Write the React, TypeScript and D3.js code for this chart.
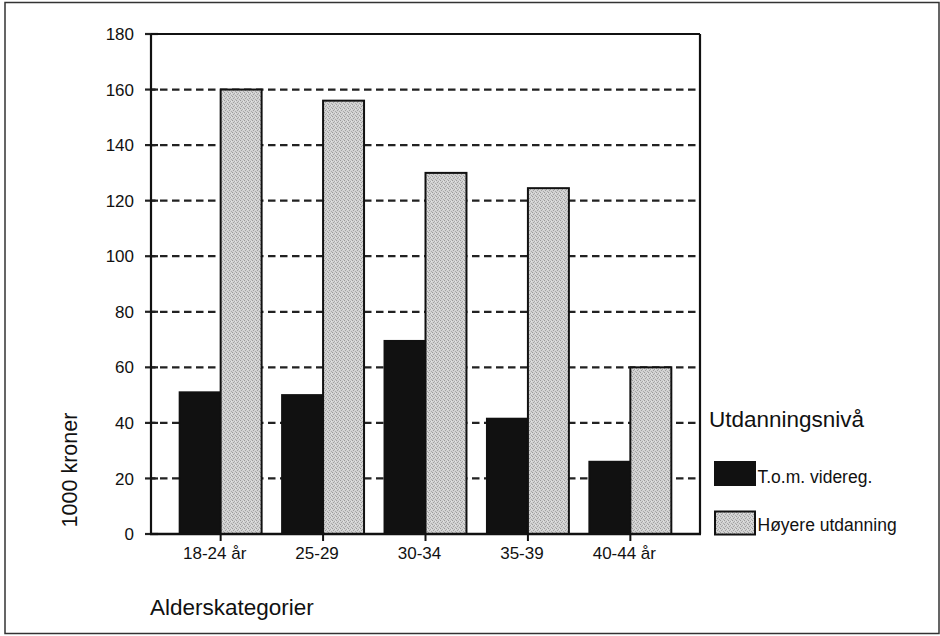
import React from "react";
import * as d3 from "d3";

const categories = ["18-24 år", "25-29", "30-34", "35-39", "40-44 år"];
const seriesNames = ["T.o.m. videreg.", "Høyere utdanning"];
const lowEdu = [51, 50, 69.5, 41.5, 26];
const highEdu = [160, 156, 130, 124.5, 60];
const yTicks = [0, 20, 40, 60, 80, 100, 120, 140, 160, 180];
const legendTitle = "Utdanningsnivå";
const yTitle = "1000 kroner";
const xTitle = "Alderskategorier";

const W = 940;
const H = 636;
const FONT = "'Liberation Sans', Arial, Helvetica, sans-serif";

export default function App() {
  const left = 151, right = 700, top = 34, bottom = 534;
  const y = d3.scaleLinear().domain([0, 180]).range([bottom, top]);
  const x = d3.scaleBand<string>().domain(categories).range([left, right]).paddingInner(0.2).paddingOuter(0.28);
  const xs = d3.scaleBand<string>().domain(seriesNames).range([0, x.bandwidth()]).padding(0);
  const values = [lowEdu, highEdu];
  const fills = ["#111111", "url(#stipple)"];

  return (
    <svg width={W} height={H} style={{ position: "absolute", left: 0, top: 0, background: "#fff" }} fontFamily={FONT}>
      <defs>
        <pattern id="stipple" width="4" height="4" patternUnits="userSpaceOnUse">
          <rect width="4" height="4" fill="#d2d2d2" />
          <rect x="0" y="0" width="1" height="1" fill="#9a9a9a" />
          <rect x="2" y="1" width="1" height="1" fill="#a8a8a8" />
          <rect x="1" y="2" width="1" height="1" fill="#a0a0a0" />
          <rect x="3" y="3" width="1" height="1" fill="#aaaaaa" />
          <rect x="3" y="1" width="1" height="1" fill="#e4e4e4" />
        </pattern>
      </defs>
      <rect x={5} y={2.5} width={934} height={631} fill="#fff" stroke="#333" strokeWidth={1.5} />

      {/* gridlines */}
      {yTicks.filter(t => t > 0 && t < 180).map(t => (
        <line key={"g" + t} x1={left} x2={right} y1={y(t)} y2={y(t)} stroke="#222" strokeWidth={2.2} strokeDasharray="7.5 4.5" strokeDashoffset={-9} />
      ))}
      {/* left ticks */}
      {yTicks.map(t => (
        <line key={"t" + t} x1={145} x2={158} y1={y(t)} y2={y(t)} stroke="#222" strokeWidth={2.2} />
      ))}
      {/* y tick labels */}
      {yTicks.map(t => (
        <text key={"l" + t} x={134} y={y(t)} dy="0.36em" textAnchor="end" fontSize={17} fill="#111">{t}</text>
      ))}

      {/* bars */}
      {categories.map((c, i) => (
        <g key={c}>
          {seriesNames.map((s, j) => (
            <rect key={s} x={(x(c) as number) + (xs(s) as number)} y={y(values[j][i])} width={xs.bandwidth()} height={y(0) - y(values[j][i])}
              fill={fills[j]} stroke="#111" strokeWidth={2} />
          ))}
        </g>
      ))}

      {/* plot frame */}
      <line x1={left} x2={left} y1={top} y2={bottom} stroke="#111" strokeWidth={2.2} />
      <line x1={left} x2={right} y1={top} y2={top} stroke="#111" strokeWidth={2.2} />
      <line x1={right} x2={right} y1={top} y2={bottom} stroke="#111" strokeWidth={2.2} />
      <line x1={left - 1} x2={right + 1} y1={bottom} y2={bottom} stroke="#111" strokeWidth={2.4} />

      {/* x ticks and labels */}
      {categories.map(c => {
        const cx = (x(c) as number) + x.bandwidth() / 2;
        return (
          <g key={"x" + c}>
            <line x1={cx} x2={cx} y1={bottom} y2={bottom + 7} stroke="#111" strokeWidth={2} />
            <text x={cx - 6} y={559} textAnchor="middle" fontSize={17} fill="#111">{c}</text>
          </g>
        );
      })}

      {/* axis titles */}
      <text transform={`translate(77,470) rotate(-90)`} textAnchor="middle" fontSize={21.5} fill="#111">{yTitle}</text>
      <text x={150} y={615} fontSize={22.5} fill="#111">{xTitle}</text>

      {/* legend */}
      <text x={709} y={427} fontSize={22.5} fill="#111">{legendTitle}</text>
      {seriesNames.map((s, j) => (
        <g key={"lg" + s}>
          <rect x={715} y={462 + j * 49.5} width={40} height={23} fill={fills[j]} stroke="#111" strokeWidth={2} />
          <text x={757.5} y={482.5 + j * 48} fontSize={17.5} fill="#111">{s}</text>
        </g>
      ))}
    </svg>
  );
}
